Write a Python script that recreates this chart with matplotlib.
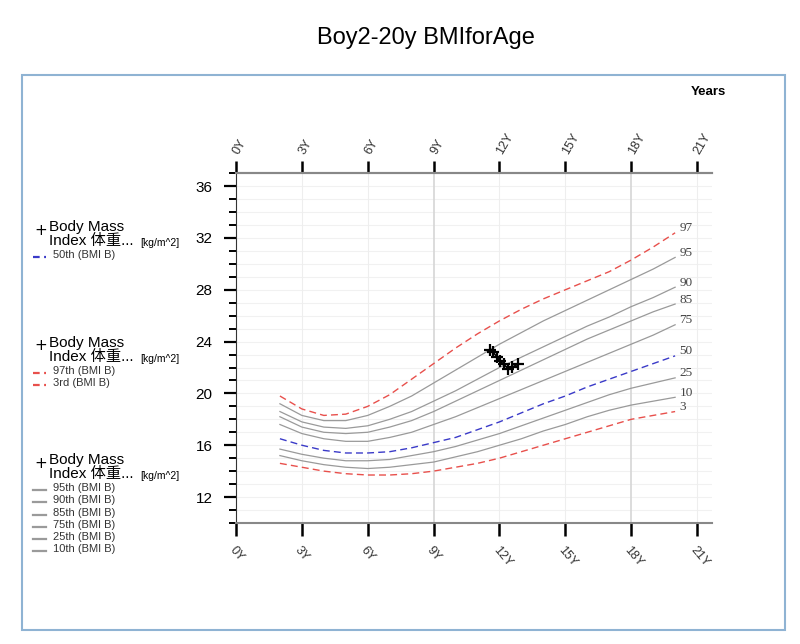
import matplotlib
matplotlib.use("Agg")
import matplotlib.pyplot as plt
from matplotlib.patches import Rectangle
from matplotlib.lines import Line2D

# ----- DATA -----
ages = [2, 3, 4, 5, 6, 7, 8, 9, 10, 11, 12, 13, 14, 15, 16, 17, 18, 19, 20]
p3 = [14.6, 14.3, 14.0, 13.8, 13.7, 13.7, 13.8, 14.0, 14.3, 14.6, 15.0, 15.5, 16.0, 16.5, 17.0, 17.5, 18.0, 18.3, 18.6]
p10 = [15.2, 14.8, 14.5, 14.3, 14.2, 14.3, 14.5, 14.7, 15.1, 15.5, 16.0, 16.5, 17.1, 17.6, 18.2, 18.7, 19.1, 19.4, 19.7]
p25 = [15.7, 15.3, 15.0, 14.8, 14.8, 14.9, 15.2, 15.5, 15.9, 16.4, 16.9, 17.5, 18.1, 18.7, 19.3, 19.9, 20.4, 20.8, 21.2]
p50 = [16.5, 16.0, 15.6, 15.4, 15.4, 15.5, 15.8, 16.2, 16.6, 17.2, 17.8, 18.5, 19.2, 19.8, 20.5, 21.1, 21.7, 22.3, 22.9]
p75 = [17.6, 16.9, 16.5, 16.3, 16.3, 16.6, 17.0, 17.6, 18.2, 18.9, 19.6, 20.3, 21.0, 21.7, 22.4, 23.1, 23.8, 24.5, 25.3]
p85 = [18.2, 17.4, 17.0, 16.9, 17.0, 17.4, 17.9, 18.6, 19.4, 20.2, 21.0, 21.8, 22.6, 23.4, 24.2, 24.9, 25.6, 26.3, 26.9]
p90 = [18.6, 17.8, 17.4, 17.3, 17.5, 18.0, 18.6, 19.4, 20.2, 21.1, 22.0, 22.8, 23.6, 24.4, 25.2, 25.9, 26.7, 27.4, 28.2]
p95 = [19.2, 18.3, 17.9, 17.9, 18.3, 19.0, 19.8, 20.8, 21.8, 22.8, 23.8, 24.7, 25.6, 26.4, 27.2, 28.0, 28.8, 29.6, 30.5]
p97 = [19.8, 18.8, 18.3, 18.4, 19.0, 19.9, 21.1, 22.3, 23.5, 24.6, 25.6, 26.5, 27.3, 28.0, 28.7, 29.4, 30.3, 31.3, 32.4]

# patient measurements
pt_age = [11.57, 11.71, 11.89, 12.03, 12.2, 12.39, 12.57, 12.85]
pt_bmi = [23.34, 23.19, 22.80, 22.49, 22.26, 21.88, 22.03, 22.26]

x_ticks = [0, 3, 6, 9, 12, 15, 18, 21]
x_labels = ["0Y", "3Y", "6Y", "9Y", "12Y", "15Y", "18Y", "21Y"]
y_ticks = [12, 16, 20, 24, 28, 32, 36]

RED = "#e8504c"
BLUE = "#3a3ac8"
GRAY = "#9a9a9a"
CJK = ["Liberation Sans", "Noto Sans CJK SC"]

curves = [
    (p97, "97", RED, "--"),
    (p95, "95", GRAY, "-"),
    (p90, "90", GRAY, "-"),
    (p85, "85", GRAY, "-"),
    (p75, "75", GRAY, "-"),
    (p50, "50", BLUE, "--"),
    (p25, "25", GRAY, "-"),
    (p10, "10", GRAY, "-"),
    (p3, "3", RED, "--"),
]

fig = plt.figure(figsize=(8, 6.44), dpi=100)

# outer frame
fig.patches.append(Rectangle((22 / 800, 1 - 630 / 644), 763 / 800, 555 / 644,
                             transform=fig.transFigure, fill=False,
                             edgecolor="#8fb3d3", lw=1.5))

fig.text(0.5325, 0.941, "Boy2-20y BMIforAge", fontsize=17, ha="center", va="center",
         family="Liberation Sans")
fig.text(0.886, 0.857, "Years", fontsize=9.5, fontweight="bold", ha="center", va="center",
         family="Liberation Sans")

ax = fig.add_axes([0.295, 0.188, 0.595, 0.543])
ax.set_xlim(0, 21.68)
ax.set_ylim(10, 37)

# grid
for y in range(11, 37):
    ax.axhline(y, color="#f1f1f1", lw=0.8, zorder=0)
for x in x_ticks[1:]:
    c = "#d6d6d6" if x in (9, 18) else "#eeeeee"
    ax.axvline(x, color=c, lw=1.2 if x in (9, 18) else 0.8, zorder=0)

for vals, lab, col, ls in curves:
    if ls == "--":
        ax.plot(ages, vals, color=col, lw=1.0, ls=(0, (5, 3)))
    else:
        ax.plot(ages, vals, color=col, lw=0.9)
    ax.text(20.2, vals[-1] + 0.35, lab, fontsize=9.5, color="#444444",
            family="Liberation Serif", ha="left", va="center")

ax.plot(pt_age, pt_bmi, color="black", lw=1.2, marker="+", ms=8, mew=1.6)

# axes styling
ax.spines["right"].set_visible(False)
ax.spines["left"].set_color("#333333")
ax.spines["top"].set_color("#888888")
ax.spines["bottom"].set_color("#888888")
ax.spines["top"].set_linewidth(1.5)
ax.spines["bottom"].set_linewidth(1.5)

ax.set_yticks(y_ticks)
ax.set_yticks(range(10, 38), minor=True)
ax.tick_params(axis="y", which="major", length=9, width=1.6, labelsize=11, color="black", pad=8)
ax.tick_params(axis="y", which="minor", length=5, width=1.4, color="black")
for t in ax.get_yticklabels():
    t.set_family("Liberation Sans")

ax.set_xticks(x_ticks)
ax.set_xticklabels(x_labels)
ax.tick_params(axis="x", length=9, width=1.8, color="black", labelsize=9, pad=6)
for t in ax.get_xticklabels():
    t.set_rotation(-50)
    t.set_ha("left")
    t.set_va("top")
    t.set_rotation_mode("anchor")
    t.set_family("Liberation Sans")
    t.set_color("#333333")

top = ax.secondary_xaxis("top")
top.set_xticks(x_ticks)
top.set_xticklabels(x_labels)
top.tick_params(axis="x", length=9, width=1.8, color="black", labelsize=9, pad=5)
top.spines["top"].set_color("#888888")
top.spines["top"].set_linewidth(1.5)
for t in top.get_xticklabels():
    t.set_rotation(60)
    t.set_ha("left")
    t.set_va("center")
    t.set_rotation_mode("anchor")
    t.set_family("Liberation Sans")
    t.set_color("#333333")


# ----- left legend -----
def px(x, y):
    return x / 800, 1 - y / 644


def legend_group(y0, entries, color, dashed):
    fig.text(*px(34, y0 + 3), "+", fontsize=11, ha="left", va="center", family="DejaVu Sans")
    fig.text(*px(49, y0), "Body Mass", fontsize=11, ha="left", va="center", family=CJK)
    fig.text(*px(49, y0 + 14), "Index 体重...", fontsize=11, ha="left", va="center", family=CJK)
    fig.text(*px(140, y0 + 16), "[kg/m^2]", fontsize=7.5, ha="left", va="center", family=CJK)
    y = y0 + 28
    for name in entries:
        ls = (0, (3, 2)) if dashed else "-"
        fig.add_artist(Line2D([33 / 800, 46 / 800], [1 - (y + 2) / 644] * 2,
                              transform=fig.transFigure, color=color, lw=1.6, ls=ls))
        fig.text(*px(53, y), name, fontsize=8, ha="left", va="center",
                 family="Liberation Sans", color="#333333")
        y += 12.3


legend_group(227, ["50th (BMI B)"], BLUE, True)
legend_group(343, ["97th (BMI B)", "3rd (BMI B)"], RED, True)
legend_group(460, ["95th (BMI B)", "90th (BMI B)", "85th (BMI B)", "75th (BMI B)",
                   "25th (BMI B)", "10th (BMI B)"], GRAY, False)

fig.savefig("out.png", dpi=100)
